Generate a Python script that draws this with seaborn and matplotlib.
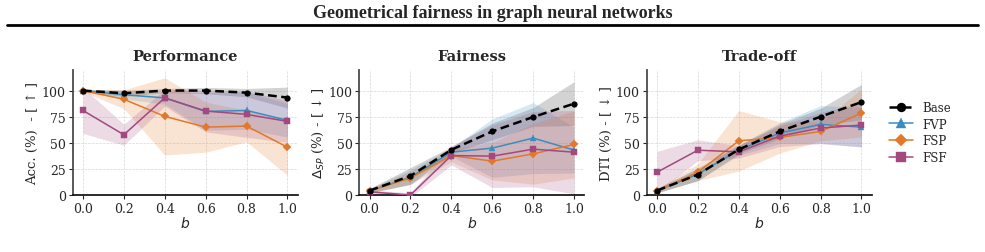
import numpy as np
import pandas as pd
import matplotlib
matplotlib.use("Agg")
import matplotlib.pyplot as plt
import seaborn as sns

# ---------------- data ----------------
b_values = [0.0, 0.2, 0.4, 0.6, 0.8, 1.0]
methods = ["Base", "FVP", "FSP", "FSF"]

# Performance (accuracy, %)
acc_base = [100, 97.4, 100, 100, 98, 93.3]
acc_fvp = [100, 96, 93, 80, 81, 71.5]
acc_fsp = [100, 91.7, 75.3, 65, 66, 45.8]
acc_fsf = [81, 57.7, 93, 80.4, 77.2, 70.5]
acc_base_sd = [1, 3, 2, 3, 4, 10]
acc_fvp_sd = [1, 4, 6, 18, 18, 16]
acc_fsp_sd = [1, 9, 37, 24, 15, 27]
acc_fsf_sd = [22, 10, 8, 20, 22, 20]

# Fairness (Delta SP, %)
sp_base = [4.2, 18.3, 43.3, 60.9, 74.7, 87.5]
sp_fvp = [4, 17, 41, 44.9, 54.5, 43]
sp_fsp = [4, 16.3, 37.8, 32.4, 39.4, 48.4]
sp_fsf = [3, 0, 37.8, 37.2, 43.9, 41]
sp_base_sd = [2, 8, 3, 8, 9, 21]
sp_fvp_sd = [2, 7, 4, 28, 34, 22]
sp_fsp_sd = [2, 6, 6, 18, 29, 32]
sp_fsf_sd = [2, 2, 9, 30, 36, 40]

# Trade-off (DTI, %)
dti_base = [4.2, 19.6, 43.6, 60.9, 75, 89]
dti_fvp = [4, 20, 43, 59.3, 67.6, 65]
dti_fsp = [4, 21.8, 51.9, 55.1, 60.9, 78.5]
dti_fsf = [21.8, 42.9, 41.3, 56.4, 64.1, 67]
dti_base_sd = [2, 6, 4, 7, 8, 17]
dti_fvp_sd = [2, 6, 5, 10, 18, 19]
dti_fsp_sd = [2, 8, 29, 15, 9, 23]
dti_fsf_sd = [20, 10, 6, 10, 15, 21]

panel_titles = ["Performance", "Fairness", "Trade-off"]
y_labels = ["Acc. (%)  - [ \u2191 ]", "$\\Delta_{SP}$ (%) - [ \u2193 ]", "DTI (%) - [ \u2193 ]"]
x_ticks = [0.0, 0.2, 0.4, 0.6, 0.8, 1.0]
y_ticks = [0, 25, 50, 75, 100]

panels = [
    ([acc_base, acc_fvp, acc_fsp, acc_fsf], [acc_base_sd, acc_fvp_sd, acc_fsp_sd, acc_fsf_sd]),
    ([sp_base, sp_fvp, sp_fsp, sp_fsf], [sp_base_sd, sp_fvp_sd, sp_fsp_sd, sp_fsf_sd]),
    ([dti_base, dti_fvp, dti_fsp, dti_fsf], [dti_base_sd, dti_fvp_sd, dti_fsp_sd, dti_fsf_sd]),
]

# ---------------- style ----------------
sns.set_theme(style="ticks")
plt.rcParams["font.family"] = ["DejaVu Serif", "DejaVu Sans"]
plt.rcParams["mathtext.fontset"] = "dejavusans"

colors = {"Base": "#000000", "FVP": "#3a8dc1", "FSP": "#e2782a", "FSF": "#a2497f"}
band_colors = {"Base": "#6e6e6e", "FVP": "#3a8dc1", "FSP": "#e2782a", "FSF": "#a2497f"}
band_alpha = {"Base": 0.3, "FVP": 0.2, "FSP": 0.2, "FSF": 0.2}
markers = {"Base": "o", "FVP": "^", "FSP": "D", "FSF": "s"}
msize = {"Base": 4.5, "FVP": 4.5, "FSP": 4.0, "FSF": 4.5}

fig = plt.figure(figsize=(9.85, 2.53), dpi=100)

fig.text(0.5, 0.945, "Geometrical fairness in graph neural networks",
         ha="center", va="center", fontsize=13, fontweight="bold",
         family=["Liberation Serif", "DejaVu Serif"])
fig.add_artist(plt.Line2D([0.007, 0.993], [0.897, 0.897], color="black", lw=2.0,
                          transform=fig.transFigure))

lefts = [0.0738, 0.3648, 0.6566]
axes = []
for i, left in enumerate(lefts):
    ax = fig.add_axes([left, 0.2253, 0.2284, 0.4953])
    axes.append(ax)
    means, sds = panels[i]
    for m, mean, sd in zip(methods, means, sds):
        mean = np.asarray(mean, float)
        sd = np.asarray(sd, float)
        ax.fill_between(b_values, mean - sd, mean + sd, color=band_colors[m],
                        alpha=band_alpha[m], lw=0, zorder=1)
    for m, mean in zip(methods, means):
        df = pd.DataFrame({"b": b_values, "v": mean})
        if m == "Base":
            sns.lineplot(data=df, x="b", y="v", ax=ax, color="black", lw=1.8,
                         linestyle=(0, (3.5, 1.8)), marker="o", markersize=msize[m],
                         markeredgewidth=0, label=m, zorder=5)
        else:
            sns.lineplot(data=df, x="b", y="v", ax=ax, color=colors[m], lw=1.1,
                         marker=markers[m], markersize=msize[m], markeredgewidth=0.3,
                         markeredgecolor=colors[m], label=m, zorder=3)
    ax.set_xlim(-0.05, 1.05)
    ax.set_ylim(0, 120)
    ax.set_xticks(x_ticks)
    ax.set_xticklabels([f"{t:.1f}" for t in x_ticks])
    ax.set_yticks(y_ticks)
    ax.tick_params(labelsize=9, length=3, width=0.8, pad=2)
    ax.grid(True, linestyle="--", lw=0.5, color="#d8d8d8")
    ax.set_axisbelow(True)
    ax.set_xlabel("$b$", fontsize=10, labelpad=0)
    ax.set_ylabel(y_labels[i], fontsize=9.5, labelpad=2)
    ax.set_title(panel_titles[i], fontsize=10.5, fontweight="bold", pad=7)
    sns.despine(ax=ax)
    ax.spines["left"].set_color("#444444")
    ax.spines["bottom"].set_color("#111111")
    if ax.get_legend() is not None:
        ax.get_legend().remove()

handles, labels = axes[2].get_legend_handles_labels()
fig.legend(handles[:4], labels[:4], loc="upper left", bbox_to_anchor=(0.897, 0.62),
           frameon=False, fontsize=8.5, markerscale=1.5, handlelength=2.0,
           labelspacing=0.3, handletextpad=0.8, borderpad=0)

fig.savefig("out.png", dpi=100)
